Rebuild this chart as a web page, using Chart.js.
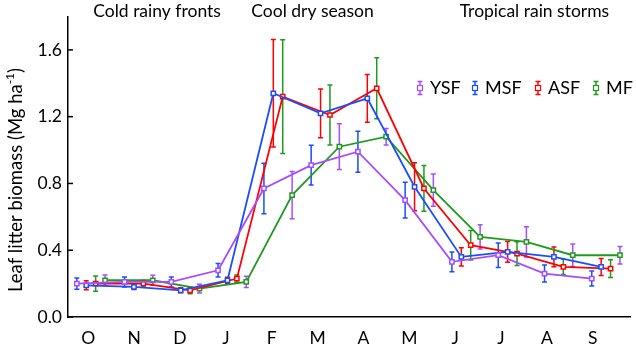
<!DOCTYPE html>
<html>
<head>
<meta charset="utf-8">
<script src="https://cdn.jsdelivr.net/npm/chart.js@4.4.0/dist/chart.umd.min.js"></script>
<style>
  html, body { margin: 0; padding: 0; background: #fff; }
</style>
</head>
<body>
<canvas id="grafico" width="636" height="348"></canvas>
<script>
// month tick labels (Oct -> Sep)
const MONTHS = ['O', 'N', 'D', 'J', 'F', 'M', 'A', 'M', 'J', 'J', 'A', 'S'];
// sampling position of each month on the x axis (label units), first series
const SAMPLE_X = [-0.25, 0.79, 1.81, 2.83, 3.83, 4.86, 5.88, 6.91, 7.93, 8.94, 9.95, 10.98];

const YSF = [0.20, 0.21, 0.21, 0.28, 0.77, 0.91, 0.99, 0.70, 0.33, 0.37, 0.26, 0.23];
const MSF = [0.19, 0.18, 0.16, 0.22, 1.34, 1.22, 1.31, 0.78, 0.36, 0.39, 0.36, 0.30];
const ASF = [0.20, 0.20, 0.16, 0.23, 1.32, 1.21, 1.37, 0.77, 0.43, 0.38, 0.30, 0.29];
const MF  = [0.22, 0.22, 0.17, 0.21, 0.73, 1.02, 1.08, 0.76, 0.48, 0.45, 0.37, 0.37];

// half length of the error bars
const YSF_ERR = [0.034, 0.030, 0.030, 0.041, 0.151, 0.119, 0.123, 0.107, 0.059, 0.073, 0.051, 0.045];
const MSF_ERR = [0.027, 0.015, 0.015, 0.018, 0.322, 0.146, 0.143, 0.144, 0.055, 0.062, 0.059, 0.051];
const ASF_ERR = [0.046, 0.020, 0.020, 0.022, 0.341, 0.180, 0.183, 0.137, 0.088, 0.071, 0.046, 0.053];
const MF_ERR  = [0.032, 0.030, 0.026, 0.034, 0.141, 0.137, 0.049, 0.096, 0.072, 0.091, 0.068, 0.052];

const SERIES = ['YSF', 'MSF', 'ASF', 'MF'];
const SEASONS = ['Cold rainy fronts', 'Cool dry season', 'Tropical rain storms'];
const Y_TICKS = [0, 0.4, 0.8, 1.2, 1.6];

const COLORS = ['#a64dff', '#1a4dff', '#ff0000', '#1e9b1e'];
const FONT = 'Lato';
const STEP = 0.205; // offset between the four series

const values = [YSF, MSF, ASF, MF];
const errors = [YSF_ERR, MSF_ERR, ASF_ERR, MF_ERR];

const datasets = SERIES.map((name, k) => ({
  label: name,
  data: values[k].map((v, i) => ({ x: SAMPLE_X[i] + k * STEP, y: v, e: errors[k][i] })),
  borderColor: COLORS[k],
  backgroundColor: COLORS[k],
  borderWidth: 1.8,
  pointStyle: 'rect',
  pointRadius: 3,
  pointBorderWidth: 1.5,
  pointBackgroundColor: '#fff',
  pointBorderColor: COLORS[k],
  // in the original figure the whiskers carry the next series' colour
  errColor: COLORS[(k + 1) % 4],
  tension: 0
}));

function drawBar(ctx, x, y1, y2, color) {
  ctx.save();
  ctx.strokeStyle = color;
  ctx.lineWidth = 1.5;
  ctx.beginPath();
  ctx.moveTo(x, y1); ctx.lineTo(x, y2);
  ctx.moveTo(x - 2.5, y1); ctx.lineTo(x + 2.5, y1);
  ctx.moveTo(x - 2.5, y2); ctx.lineTo(x + 2.5, y2);
  ctx.stroke();
  ctx.restore();
}

const errorBars = {
  id: 'errorBars',
  beforeDatasetsDraw(chart) {
    const ctx = chart.ctx;
    const ys = chart.scales.y;
    chart.data.datasets.forEach((ds, k) => {
      const meta = chart.getDatasetMeta(k);
      meta.data.forEach((pt, i) => {
        const d = ds.data[i];
        drawBar(ctx, pt.x, ys.getPixelForValue(d.y + d.e), ys.getPixelForValue(d.y - d.e), ds.errColor);
      });
    });
  }
};

const extras = {
  id: 'extras',
  afterDraw(chart) {
    const ctx = chart.ctx;
    const xs = chart.scales.x, ys = chart.scales.y;
    const area = chart.chartArea;
    ctx.save();

    // inward y ticks
    ctx.strokeStyle = '#000';
    ctx.lineWidth = 1.5;
    Y_TICKS.forEach(v => {
      const y = ys.getPixelForValue(v);
      ctx.beginPath();
      ctx.moveTo(area.left, y);
      ctx.lineTo(area.left + 5, y);
      ctx.stroke();
    });

    // season headings
    ctx.fillStyle = '#000';
    ctx.font = '17.5px ' + FONT;
    ctx.textAlign = 'center';
    ctx.textBaseline = 'middle';
    [1.5, 4.89, 9.73].forEach((xv, i) => {
      ctx.fillText(SEASONS[i], xs.getPixelForValue(xv), 11);
    });

    // y axis title with superscript
    ctx.save();
    ctx.translate(16, 180);
    ctx.rotate(-Math.PI / 2);
    ctx.textAlign = 'left';
    ctx.textBaseline = 'middle';
    const big = '18.5px ' + FONT, small = '12px ' + FONT;
    const t1 = 'Leaf litter biomass (Mg ha', t2 = '-1', t3 = ')';
    ctx.font = big; const w1 = ctx.measureText(t1).width, w3 = ctx.measureText(t3).width;
    ctx.font = small; const w2 = ctx.measureText(t2).width;
    let x0 = -(w1 + w2 + w3) / 2;
    ctx.font = big; ctx.fillText(t1, x0, 0);
    ctx.font = small; ctx.fillText(t2, x0 + w1, -6);
    ctx.font = big; ctx.fillText(t3, x0 + w1 + w2, 0);
    ctx.restore();

    // legend
    ctx.font = '18px ' + FONT;
    ctx.textAlign = 'left';
    ctx.textBaseline = 'middle';
    const ly = 88;
    [420, 475, 538, 596].forEach((lx, k) => {
      drawBar(ctx, lx, ly - 6.5, ly + 6.5, COLORS[k]);
      ctx.fillStyle = '#fff';
      ctx.strokeStyle = COLORS[k];
      ctx.lineWidth = 1.2;
      ctx.fillRect(lx - 2.5, ly - 2.5, 5, 5);
      ctx.strokeRect(lx - 2.5, ly - 2.5, 5, 5);
      ctx.fillStyle = '#000';
      ctx.fillText(SERIES[k], lx + 10, ly);
    });
    ctx.restore();
  }
};

new Chart(document.getElementById('grafico').getContext('2d'), {
  type: 'line',
  data: { datasets },
  options: {
    responsive: false,
    animation: false,
    layout: { padding: { top: 8, left: 0, right: 0, bottom: 0 } },
    plugins: { legend: { display: false }, tooltip: { enabled: false } },
    scales: {
      x: {
        type: 'linear',
        min: -0.443,
        max: 11.825,
        grid: { display: false, drawTicks: false },
        border: { display: true, color: '#000', width: 1.5 },
        afterBuildTicks: s => { s.ticks = MONTHS.map((m, i) => ({ value: i })); },
        afterFit: s => { s.height = 31; },
        ticks: {
          autoSkip: false,
          maxRotation: 0,
          padding: 11,
          color: '#000',
          font: { family: FONT, size: 17.5 },
          callback: v => MONTHS[v]
        }
      },
      y: {
        min: 0,
        max: 1.8,
        grid: { display: false, drawTicks: false },
        border: { display: true, color: '#000', width: 1.5 },
        afterBuildTicks: s => { s.ticks = Y_TICKS.map(v => ({ value: v })); },
        afterFit: s => { s.width = 68; },
        ticks: {
          padding: 6,
          color: '#000',
          font: { family: FONT, size: 17.5 },
          callback: v => v.toFixed(1)
        }
      }
    }
  },
  plugins: [errorBars, extras]
});
</script>
</body>
</html>
